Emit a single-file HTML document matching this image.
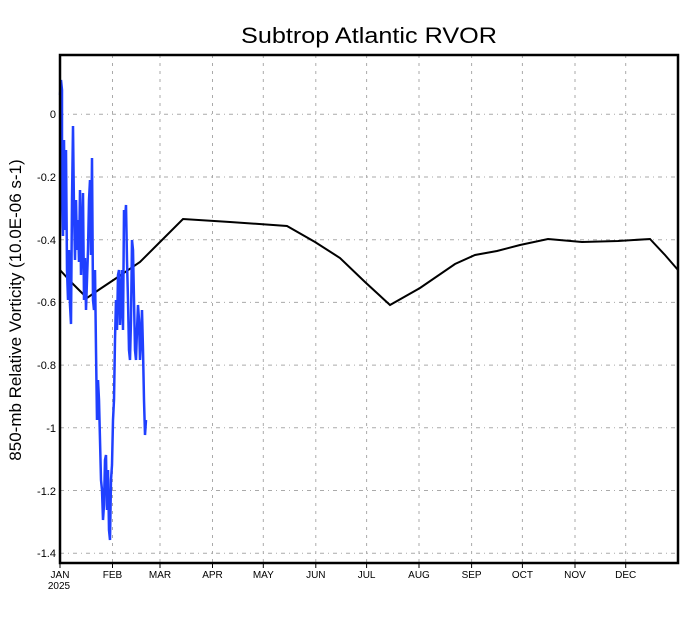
<!DOCTYPE html>
<html><head><meta charset="utf-8"><style>body{margin:0;background:#fff}svg{display:block}text{font-family:"Liberation Sans",sans-serif}</style></head><body>
<svg width="690" height="618" viewBox="0 0 690 618" xmlns="http://www.w3.org/2000/svg">
<rect width="690" height="618" fill="#fff"/>
<text x="369" y="43" font-size="22" text-anchor="middle" textLength="256" lengthAdjust="spacingAndGlyphs">Subtrop Atlantic RVOR</text>
<text transform="translate(21,310) rotate(-90)" font-size="17" text-anchor="middle">850-mb Relative Vorticity (10.0E-06 s-1)</text>
<g stroke="#aaa" stroke-width="1" stroke-dasharray="4,4,1,4">
<line x1="60" x2="678" y1="114.3" y2="114.3"/><line x1="60" x2="678" y1="177" y2="177"/><line x1="60" x2="678" y1="239.7" y2="239.7"/><line x1="60" x2="678" y1="302.4" y2="302.4"/><line x1="60" x2="678" y1="365.1" y2="365.1"/><line x1="60" x2="678" y1="427.8" y2="427.8"/><line x1="60" x2="678" y1="490.5" y2="490.5"/><line x1="60" x2="678" y1="553.2" y2="553.2"/>
</g>
<g stroke="#aaa" stroke-width="1" stroke-dasharray="3,5">
<line x1="112.5" x2="112.5" y1="55" y2="563"/><line x1="160" x2="160" y1="55" y2="563"/><line x1="212.5" x2="212.5" y1="55" y2="563"/><line x1="263.3" x2="263.3" y1="55" y2="563"/><line x1="315.8" x2="315.8" y1="55" y2="563"/><line x1="366.6" x2="366.6" y1="55" y2="563"/><line x1="419" x2="419" y1="55" y2="563"/><line x1="471.6" x2="471.6" y1="55" y2="563"/><line x1="522.4" x2="522.4" y1="55" y2="563"/><line x1="575" x2="575" y1="55" y2="563"/><line x1="625.7" x2="625.7" y1="55" y2="563"/>
</g>
<g font-size="11" text-anchor="end">
<text x="56" y="118">0</text><text x="56" y="181">-0.2</text><text x="56" y="244">-0.4</text><text x="56" y="306">-0.6</text><text x="56" y="369">-0.8</text><text x="56" y="432">-1</text><text x="56" y="495">-1.2</text><text x="56" y="557">-1.4</text>
</g>
<g font-size="10" text-anchor="middle">
<text x="60" y="578">JAN</text><text x="59" y="589">2025</text><text x="112.5" y="578">FEB</text><text x="160" y="578">MAR</text><text x="212.5" y="578">APR</text><text x="263.3" y="578">MAY</text><text x="315.8" y="578">JUN</text><text x="366.6" y="578">JUL</text><text x="419" y="578">AUG</text><text x="471.6" y="578">SEP</text><text x="522.4" y="578">OCT</text><text x="575" y="578">NOV</text><text x="625.7" y="578">DEC</text>
</g>
<polyline fill="none" stroke="#000" stroke-width="2" points="60,270 72,283 87,298 100,289 115,279 140,262 160,242 183,219 230,222 287,226 315,242 340,258 365,282 390,305 420,288 455,264 475,255 497,251 520,245 548,239 582,242 618,241 650,239 665,255 678,270"/>
<polyline fill="none" stroke="#2040ff" stroke-width="2.5" points="60,95 61,80 62,90 62,200 63,236 64,140 65,230 66,150 67,270 68,300 69,250 70,305 71,324 72,200 73,126 74,210 75,260 76,200 77,250 78,220 79,262 80,190 81,275 82,240 83,193 84,300 85,258 86,310 87,280 88,250 89,200 90,180 91,255 92,158 93,300 94,310 95,270 96,350 97,420 98,380 99,400 100,440 101,480 102,490 103,520 104,505 105,460 106,455 107,510 108,470 109,530 110,540 111,480 112,465 113,420 114,400 115,340 116,300 117,330 118,275 119,270 120,325 121,300 122,270 123,330 124,210 125,220 126,205 127,260 128,300 129,350 130,360 131,320 132,240 133,250 134,300 135,350 136,360 137,330 138,305 139,320 140,360 141,340 142,310 143,350 144,400 145,435 146,420"/>
<rect x="60" y="55" width="618" height="508" fill="none" stroke="#000" stroke-width="2.5"/>
<g stroke="#000" stroke-width="1"><line x1="60" x2="60" y1="563" y2="568"/><line x1="112.5" x2="112.5" y1="563" y2="568"/><line x1="160" x2="160" y1="563" y2="568"/><line x1="212.5" x2="212.5" y1="563" y2="568"/><line x1="263.3" x2="263.3" y1="563" y2="568"/><line x1="315.8" x2="315.8" y1="563" y2="568"/><line x1="366.6" x2="366.6" y1="563" y2="568"/><line x1="419" x2="419" y1="563" y2="568"/><line x1="471.6" x2="471.6" y1="563" y2="568"/><line x1="522.4" x2="522.4" y1="563" y2="568"/><line x1="575" x2="575" y1="563" y2="568"/><line x1="625.7" x2="625.7" y1="563" y2="568"/></g>
</svg>
</body></html>
